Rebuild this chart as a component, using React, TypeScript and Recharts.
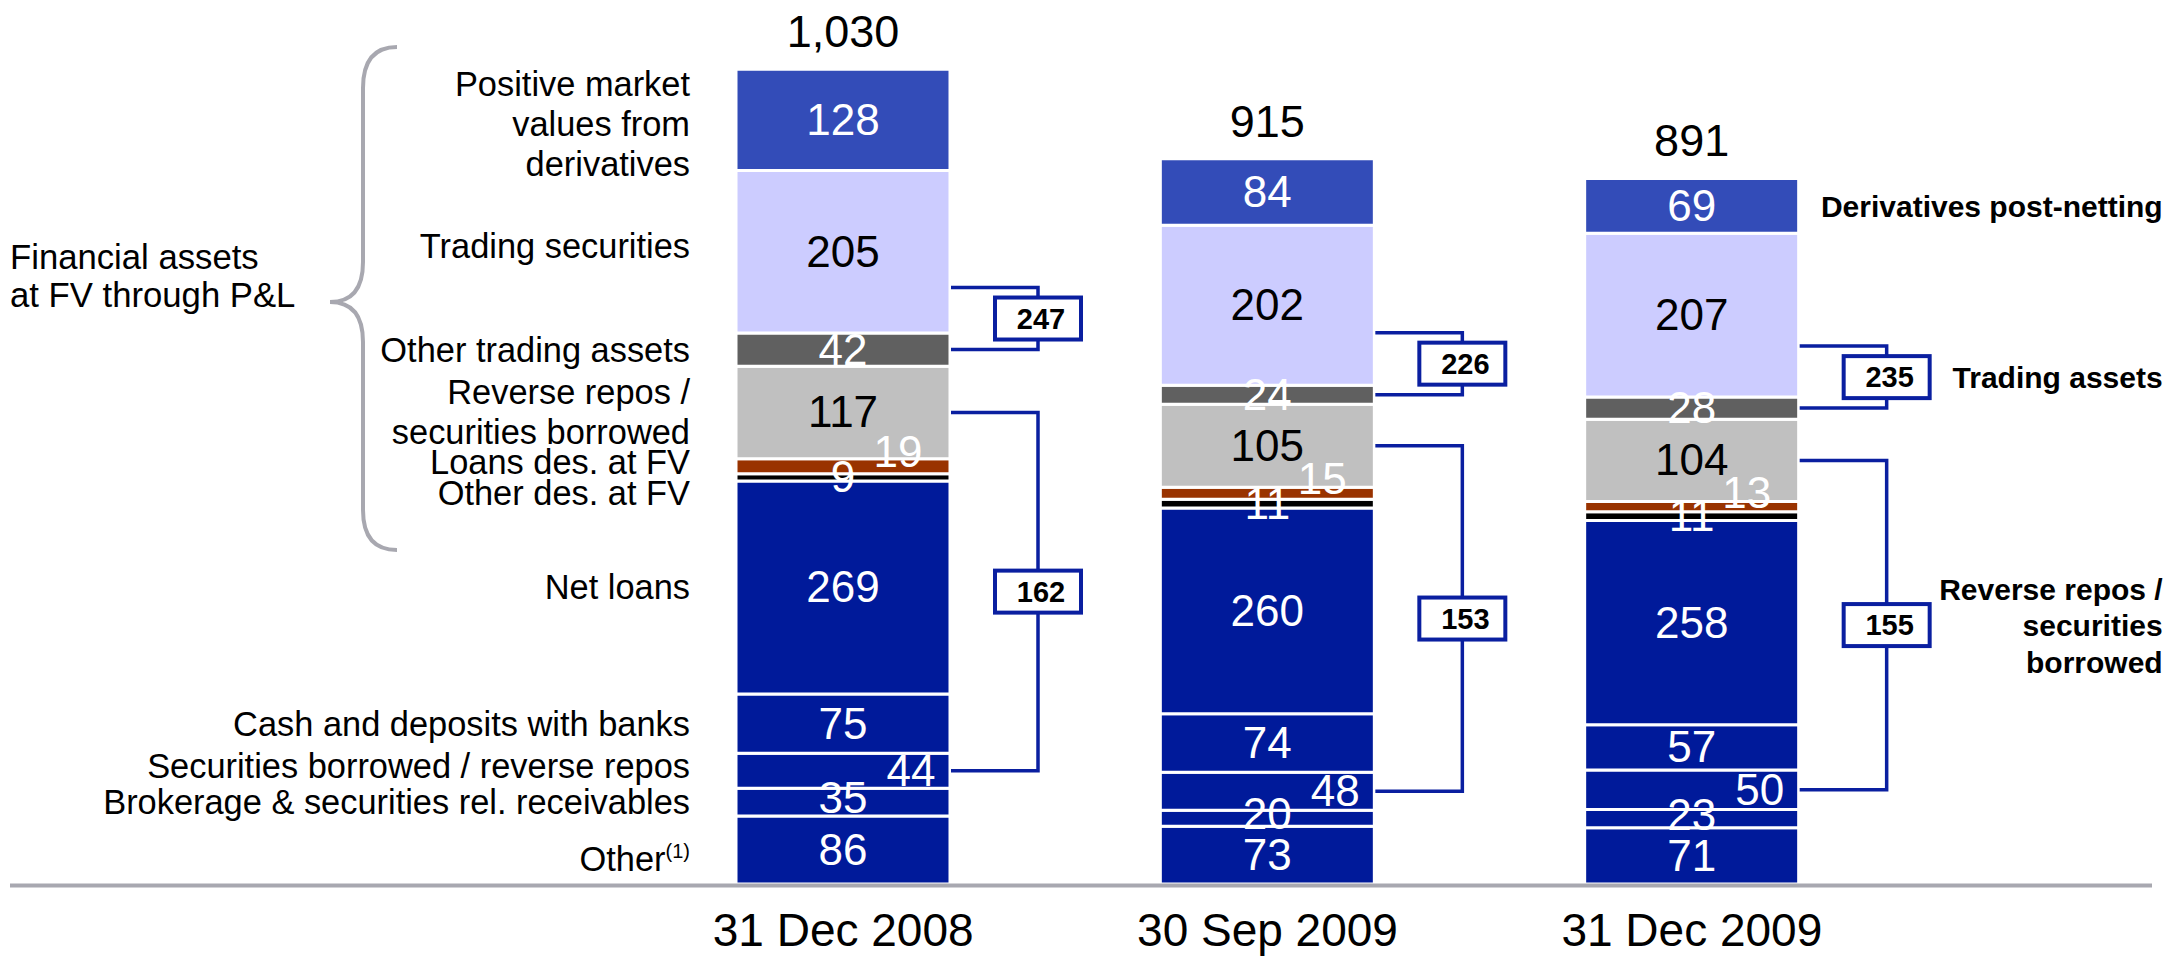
import { BarChart, Bar, XAxis, YAxis, LabelList } from 'recharts';

const categories = ['31 Dec 2008', '30 Sep 2009', '31 Dec 2009'];
const totals = [1030, 915, 891];

// stacked from the bottom up, EUR bn
const other = [86, 73, 71];
const brokerage = [35, 20, 23];
const secBorrowed = [44, 48, 50];
const cashDeposits = [75, 74, 57];
const netLoans = [269, 260, 258];
const otherDesFv = [9, 11, 11];
const loansDesFv = [19, 15, 13];
const reverseRepos = [117, 105, 104];
const otherTrading = [42, 24, 28];
const tradingSecurities = [205, 202, 207];
const derivatives = [128, 84, 69];

// bracket totals
const tradingAssets = [247, 226, 235];
const repoTotals = [162, 153, 155];

const FONT = '"Liberation Sans", Arial, Helvetica, sans-serif';
const NAVY = '#001a9a';
const LINE_BLUE = '#0a1fa0';
const GREY_LINE = '#a8a8b0';

type Series = {
  key: string;
  values: number[];
  fill: string;
  text: string;
  name: string[];
  sup?: string;
  nameDy?: number;
  valueDx?: number;
  valueDy?: number;
};

const SERIES: Series[] = [
  { key: 'other', values: other, fill: NAVY, text: '#fff', name: ['Other'], sup: '(1)', nameDy: 9 },
  { key: 'brokerage', values: brokerage, fill: NAVY, text: '#fff', name: ['Brokerage & securities rel. receivables'], valueDy: -4 },
  { key: 'secBorrowed', values: secBorrowed, fill: NAVY, text: '#fff', name: ['Securities borrowed / reverse repos'], nameDy: -5, valueDx: 68 },
  { key: 'cashDeposits', values: cashDeposits, fill: NAVY, text: '#fff', name: ['Cash and deposits with banks'] },
  { key: 'netLoans', values: netLoans, fill: NAVY, text: '#fff', name: ['Net loans'] },
  { key: 'otherDesFv', values: otherDesFv, fill: '#000000', text: '#fff', name: ['Other des. at FV'], nameDy: 16 },
  { key: 'loansDesFv', values: loansDesFv, fill: '#993300', text: '#fff', name: ['Loans des. at FV'], nameDy: -4, valueDx: 55, valueDy: -14 },
  { key: 'reverseRepos', values: reverseRepos, fill: '#c0c0c0', text: '#000', name: ['Reverse repos /', 'securities borrowed'] },
  { key: 'otherTrading', values: otherTrading, fill: '#606060', text: '#fff', name: ['Other trading assets'] },
  { key: 'tradingSecurities', values: tradingSecurities, fill: '#ccccff', text: '#000', name: ['Trading securities'], nameDy: -6 },
  { key: 'derivatives', values: derivatives, fill: '#334cb8', text: '#fff', name: ['Positive market', 'values from', 'derivatives'], nameDy: 4 },
];

const rows = categories.map((name, i) => {
  const row: Record<string, string | number> = { name };
  SERIES.forEach((s) => { row[s.key] = s.values[i]; });
  return row;
});

const idx = (key: string) => SERIES.findIndex((s) => s.key === key);

const Bracket = ({ x0, top, bottom, value }: { x0: number; top: number; bottom: number; value: number }) => {
  const lineX = x0 + 88;
  const mid = (top + bottom) / 2;
  return (
    <g>
      <path
        d={`M${x0 + 1},${top} H${lineX} V${bottom} H${x0 + 1}`}
        fill="none"
        stroke={LINE_BLUE}
        strokeWidth={3.5}
      />
      <rect x={lineX - 43} y={mid - 21} width={86} height={42} fill="#fff" stroke={LINE_BLUE} strokeWidth={4} />
      <text x={lineX + 3} y={mid + 10} textAnchor="middle" fontFamily={FONT} fontWeight="bold" fontSize={29} fill="#000">
        {value}
      </text>
    </g>
  );
};

const renderAnnotations = (props: any) => {
  const vb = props.viewBox ?? props;
  const { x, y, width, height } = vb;
  const i: number = props.index;
  const ppu = height / derivatives[i];
  const stackSum = SERIES.reduce((acc, s) => acc + s.values[i], 0);
  const baseY = y + stackSum * ppu;
  let cum = 0;
  const seg = SERIES.map((s) => {
    const bot = baseY - cum * ppu;
    cum += s.values[i];
    const top = baseY - cum * ppu;
    return { top, bot, mid: (top + bot) / 2 };
  });
  const cx = x + width / 2;
  const right = x + width;

  const upperBottom = seg[idx('otherTrading')].mid;
  const upperTop = upperBottom - 62;
  const lowerTop = seg[idx('reverseRepos')].mid;
  const lowerBottom = seg[idx('secBorrowed')].mid;

  return (
    <g>
      <text x={cx} y={y - 22} textAnchor="middle" fontFamily={FONT} fontSize={45} fill="#000">
        {totals[i].toLocaleString('en-US')}
      </text>
      {SERIES.map((s, k) => (
        <text
          key={s.key}
          x={cx + (s.valueDx ?? 0)}
          y={seg[k].mid + 15 + (s.valueDy ?? 0)}
          textAnchor="middle"
          fontFamily={FONT}
          fontSize={44}
          fill={s.text}
        >
          {s.values[i]}
        </text>
      ))}
      <Bracket x0={right} top={upperTop} bottom={upperBottom} value={tradingAssets[i]} />
      <Bracket x0={right} top={lowerTop} bottom={lowerBottom} value={repoTotals[i]} />

      {i === 0 &&
        SERIES.map((s, k) => {
          const center = seg[k].mid + (s.nameDy ?? 0);
          const first = center - ((s.name.length - 1) * 40) / 2;
          return (
            <text key={`n-${s.key}`} x={x - 46} textAnchor="end" fontFamily={FONT} fontSize={34.4} fill="#000">
              {s.name.map((line, j) => (
                <tspan key={j} x={x - 46} y={first + j * 40 + 12}>
                  {line}
                </tspan>
              ))}
              {s.sup && (
                <tspan fontSize={20} dy={-13}>
                  {s.sup}
                </tspan>
              )}
            </text>
          );
        })}

      {i === categories.length - 1 && (
        <g fontFamily={FONT} fontWeight="bold" fontSize={30} fill="#000" textAnchor="end">
          <text x={right + 364} y={seg[idx('derivatives')].mid + 11}>Derivatives post-netting</text>
          <text x={right + 364} y={(upperTop + upperBottom) / 2 + 11}>Trading assets</text>
          <text x={right + 364} y={(lowerTop + lowerBottom) / 2 - 36 + 11}>Reverse repos /</text>
          <text x={right + 364} y={(lowerTop + lowerBottom) / 2 + 11}>securities</text>
          <text x={right + 364} y={(lowerTop + lowerBottom) / 2 + 37 + 11}>borrowed</text>
        </g>
      )}
    </g>
  );
};

const CategoryTick = (props: any) => {
  const { x, y, payload } = props;
  return (
    <text x={x} y={y + 54} textAnchor="middle" fontFamily={FONT} fontSize={46} fill="#000">
      {payload.value}
    </text>
  );
};

export default function App() {
  const last = SERIES.length - 1;
  return (
    <div style={{ position: 'absolute', left: 0, top: 0, width: 2174, height: 958, background: '#fff' }}>
      <BarChart
        width={2174}
        height={958}
        data={rows}
        margin={{ top: 13, right: 270, bottom: 0, left: 631 }}
        barSize={214}
      >
        <XAxis dataKey="name" axisLine={false} tickLine={false} height={74} interval={0} tick={<CategoryTick />} />
        <YAxis hide domain={[0, 1100]} />
        {SERIES.map((s, k) => (
          <Bar
            key={s.key}
            dataKey={s.key}
            stackId="assets"
            fill={s.fill}
            stroke="#fff"
            strokeWidth={3}
            isAnimationActive={false}
          >
            {k === last && <LabelList dataKey={s.key} content={renderAnnotations} />}
          </Bar>
        ))}
      </BarChart>
      <svg
        width={2174}
        height={958}
        style={{ position: 'absolute', left: 0, top: 0, pointerEvents: 'none' }}
      >
        <line x1={10} y1={885.5} x2={2152} y2={885.5} stroke={GREY_LINE} strokeWidth={4} />
        <path
          d="M397,47 Q363,47 363,88 L363,262 Q363,302 330,302 Q363,302 363,342 L363,510 Q363,550 397,550"
          fill="none"
          stroke={GREY_LINE}
          strokeWidth={4}
        />
        <text fontFamily={FONT} fontSize={34.7} fill="#000">
          <tspan x={10} y={269}>Financial assets</tspan>
          <tspan x={10} y={307}>at FV through P&amp;L</tspan>
        </text>
      </svg>
    </div>
  );
}
